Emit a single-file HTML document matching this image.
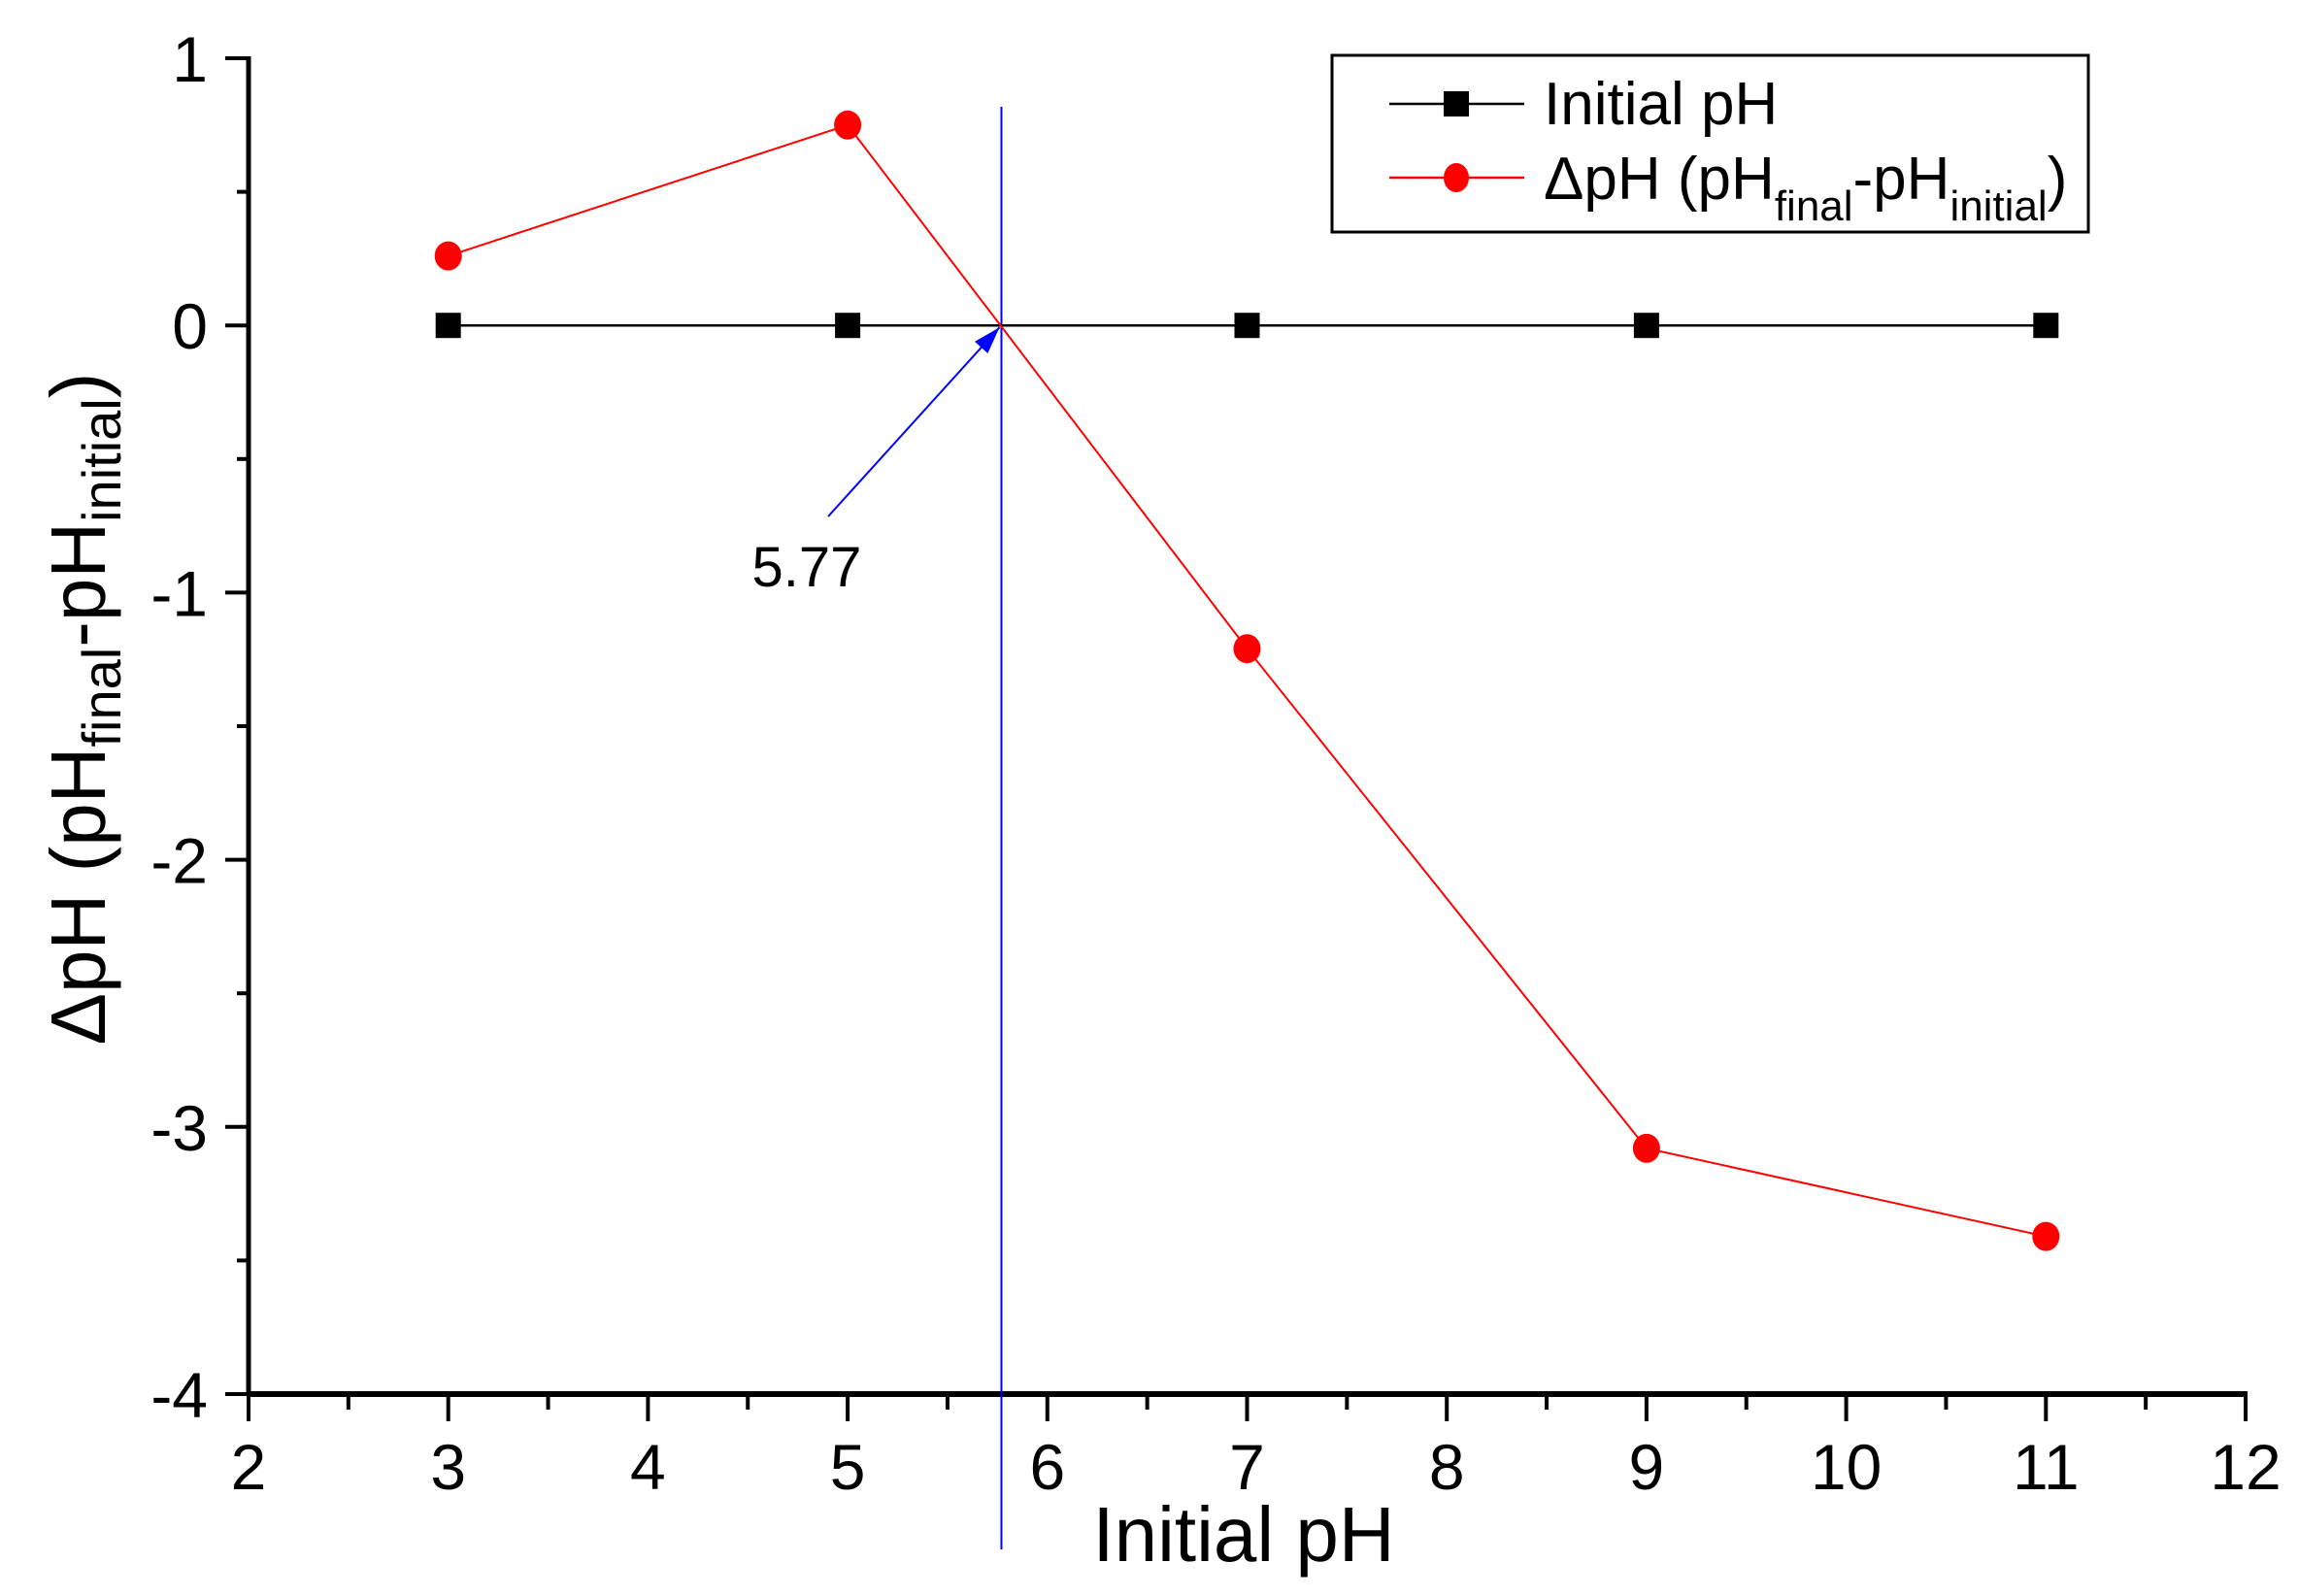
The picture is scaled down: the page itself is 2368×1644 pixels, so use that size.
<!DOCTYPE html>
<html><head><meta charset="utf-8"><style>body{margin:0;background:#fff}svg{display:block}text{font-family:"Liberation Sans",sans-serif}</style></head>
<body>
<svg id="c" width="2368" height="1644" viewBox="0 0 2368 1644"></svg>
<script>
const xTicks=[2,3,4,5,6,7,8,9,10,11,12];
const yTicks=[1,0,-1,-2,-3,-4];
const xs=[3,5,7,9,11];
const initialVals=[0,0,0,0,0];
const deltaVals=[0.26,0.75,-1.21,-3.08,-3.41];
const pzc=5.77;
const NS='http://www.w3.org/2000/svg';
const svg=document.getElementById('c');
const X=v=>256+(v-2)*205.7, Y=v=>60+(1-v)*275.2;
function mk(t,a,p){const e=document.createElementNS(NS,t);for(const k in a)e.setAttribute(k,a[k]);(p||svg).appendChild(e);return e;}
let ax=mk('line',{x1:256,y1:Y(1)-2,x2:256,y2:Y(-4),stroke:'#000','stroke-width':5});


ax=mk('line',{x1:254,y1:Y(-4),x2:X(12)+2,y2:Y(-4),stroke:'#000','stroke-width':6});


xTicks.forEach((t,i)=>{
  mk('line',{x1:X(t),y1:Y(-4),x2:X(t),y2:Y(-4)+28,stroke:'#000','stroke-width':4});
  if(i<xTicks.length-1) mk('line',{x1:X(t+0.5),y1:Y(-4),x2:X(t+0.5),y2:Y(-4)+16,stroke:'#000','stroke-width':4});
  const l=mk('text',{x:X(t),y:1534,'text-anchor':'middle','font-size':66});
  l.textContent=t;
  
  
});
yTicks.forEach((t,i)=>{
  mk('line',{x1:256,y1:Y(t),x2:232,y2:Y(t),stroke:'#000','stroke-width':4});
  if(i<yTicks.length-1) mk('line',{x1:256,y1:Y(t-0.5),x2:244,y2:Y(t-0.5),stroke:'#000','stroke-width':4});
  const l=mk('text',{x:214,y:Y(t)+24,'text-anchor':'end','font-size':66});
  l.textContent=t;
  
  
});
let v=mk('line',{x1:X(pzc),y1:110,x2:X(pzc),y2:1596,stroke:'#0000ff','stroke-width':2});


const ip=xs.map((x,i)=>X(x)+','+Y(initialVals[i])).join(' ');
let s=mk('polyline',{points:ip,fill:'none',stroke:'#000','stroke-width':2.5});


const dp=xs.map((x,i)=>X(x)+','+Y(deltaVals[i])).join(' ');
s=mk('polyline',{points:dp,fill:'none',stroke:'#ff0000','stroke-width':2});


xs.forEach((x,i)=>{
  const r=mk('rect',{x:X(x)-13,y:Y(initialVals[i])-13,width:26,height:26,fill:'#000'});
  
  
  const c=mk('ellipse',{cx:X(x),cy:Y(deltaVals[i]),rx:14,ry:15,fill:'#ff0000'});
  
  
});
const ax0=853,ay0=532,ax1=X(pzc)-2,ay1=Y(0)+2;
let a=mk('line',{x1:ax0,y1:ay0,x2:ax1,y2:ay1,stroke:'#0000ff','stroke-width':2});


const ang=Math.atan2(ay1-ay0,ax1-ax0),L=28,W=9;
const bx=ax1-L*Math.cos(ang),by=ay1-L*Math.sin(ang);
mk('polygon',{points:`${ax1},${ay1} ${bx-W*Math.sin(ang)},${by+W*Math.cos(ang)} ${bx+W*Math.sin(ang)},${by-W*Math.cos(ang)}`,fill:'#0000ff'});
let t=mk('text',{x:831,y:604,'text-anchor':'middle','font-size':58});
t.textContent=pzc.toFixed(2);


</script>
<div style="position:absolute;left:0;top:0">
<svg width="2368" height="1644">
<text x="1281" y="1608" text-anchor="middle" font-size="80">Initial pH</text>
<text transform="translate(108,730) rotate(-90)" text-anchor="middle" font-size="80">ΔpH (pH<tspan font-size="56" dy="16">final</tspan><tspan dy="-16">-pH</tspan><tspan font-size="56" dy="16">initial</tspan><tspan dy="-16">)</tspan></text>
<g>
<rect x="1372" y="57" width="779" height="182" fill="none" stroke="#000" stroke-width="3"/>
<line x1="1431" y1="107" x2="1570" y2="107" stroke="#000" stroke-width="2.5"/>
<rect x="1487" y="94" width="26" height="26" fill="#000"/>
<text x="1590" y="128" font-size="62">Initial pH</text>
<line x1="1431" y1="183" x2="1570" y2="183" stroke="#f00" stroke-width="2.5"/>
<ellipse cx="1500" cy="183" rx="13" ry="15" fill="#f00"/>
<text x="1590" y="205" font-size="62">ΔpH (pH<tspan font-size="44" dy="22">final</tspan><tspan dy="-22">-pH</tspan><tspan font-size="44" dy="22">initial</tspan><tspan dy="-22">)</tspan></text>
</g>
</svg></div>
</body></html>
